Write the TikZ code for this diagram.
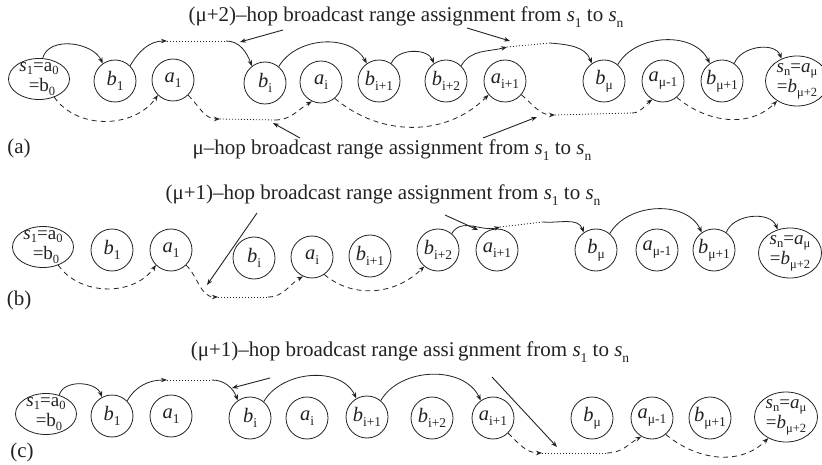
\documentclass[tikz,border=0pt]{standalone}
\usepackage{fontspec}
\setmainfont{Liberation Serif}
\usetikzlibrary{shapes.geometric,arrows.meta}
\definecolor{ink}{HTML}{222222}
\newcommand{\sbx}[1]{\raisebox{-0.25em}{\fontsize{13.5}{14}\selectfont #1}}
\newcommand{\sbe}[1]{\raisebox{-0.18em}{\fontsize{12.5}{13}\selectfont #1}}
\begin{document}
\begin{tikzpicture}[x=1pt,y=-1pt,
  nd/.style={circle,draw=ink,line width=0.8pt,minimum size=42pt,inner sep=0pt,text=ink,font=\fontsize{20.5}{22}\selectfont},
  elp/.style={ellipse,draw=ink,line width=0.8pt,minimum width=61pt,minimum height=41pt,inner sep=0pt},
  elq/.style={ellipse,draw=ink,line width=0.8pt,minimum width=63pt,minimum height=50pt,inner sep=0pt},
  etxt/.style={align=center,inner sep=0pt,text=ink,font=\fontsize{19}{20.5}\selectfont},
  lbl/.style={inner sep=0pt,text=ink,font=\fontsize{21}{24}\selectfont},
  sl/.style={draw=ink,line width=0.8pt,-{Stealth[length=6pt,width=4.5pt]}},
  ds/.style={sl,dash pattern=on 5pt off 4pt},
  dt/.style={draw=ink,line width=0.8pt,dash pattern=on 1pt off 2pt},
  ptr/.style={sl,line width=0.9pt}]
\useasboundingbox (0,0) rectangle (822,465);

% ---------------- row (a)
\node[elp] (s1a) at (39,79) {};
\node[etxt] (s1at) at (s1a) {{\itshape s}\sbe{1}=a\sbe{0}\\ \hspace*{6pt}=b\sbe{0}};
\node[nd] (b1a) at (115,81) {{\itshape b}\sbx{1}};
\node[nd] (a1a) at (173,80) {{\itshape a}\sbx{1}};
\node[nd] (bia) at (265,83) {{\itshape b}\sbx{i}};
\node[nd] (aia) at (321,82) {{\itshape a}\sbx{i}};
\node[nd] (bi1a) at (379,81) {{\itshape b}\sbx{i+1}};
\node[nd] (bi2a) at (446,81) {{\itshape b}\sbx{i+2}};
\node[nd] (ai1a) at (505,81) {{\itshape a}\sbx{i+1}};
\node[nd] (bmua) at (604,81) {{\itshape b}\sbx{μ}};
\node[nd] (amua) at (663,81) {{\itshape a}\sbx{μ-1}};
\node[nd] (bmu1a) at (722,81) {{\itshape b}\sbx{μ+1}};
\node[elq] (sna) at (797,81) {};
\node[etxt] (snat) at (sna) {{\itshape s}\sbe{n}={\itshape a}\sbe{μ}\\ ={\itshape b}\sbe{μ+2}};

\node[lbl] (la1) at (406,17) {(μ+2)–hop broadcast range assignment from {\itshape s}\sbx{1} to {\itshape s}\sbx{n}};
\node[lbl] (la2) at (392,150) {μ–hop broadcast range assignment from {\itshape s}\sbx{1} to {\itshape s}\sbx{n}};
\node[lbl] (tagA) at (19,148) {(a)};

\coordinate (pa1) at (167,41); \coordinate (qa1) at (226,41);
\coordinate (pa2) at (507,47); \coordinate (qa2) at (550,43);
\coordinate (ra1) at (220,119); \coordinate (ta1) at (275,120);
\coordinate (ra2) at (555,115); \coordinate (ta2) at (632,113);

\draw[sl] (s1a.80) to[out=75,in=115] (b1a.125);
\draw[sl] (b1a.45) to[out=60,in=180] (pa1);
\draw[dt] (pa1) -- (qa1);
\draw[sl] (qa1) to[out=0,in=110] (bia.128);
\draw[sl] (bia.50) to[out=60,in=118] (bi1a.125);
\draw[sl] (bi1a.55) to[out=70,in=110] (bi2a.125);
\draw[sl] (bi2a.45) to[out=60,in=195] (pa2);
\draw[dt] (pa2) -- (qa2);
\draw[sl] (qa2) to[out=-5,in=110] (bmua.125);
\draw[sl] (bmua.50) to[out=60,in=115] (bmu1a.125);
\draw[sl] (bmu1a.55) to[out=70,in=110] (sna.125);

\draw[ds] (s1a.-50) to[out=-55,in=-125] (a1a.-135);
\draw[ds] (a1a.-45) to[out=-45,in=180] (ra1);
\draw[dt] (ra1) -- (ta1);
\draw[ds] (ta1) to[out=0,in=-150] (aia.-115);
\draw[ds] (aia.-50) to[out=-40,in=-135] (ai1a.-140);
\draw[ds] (ai1a.-40) to[out=-40,in=180] (ra2);
\draw[dt] (ra2) -- (ta2);
\draw[ds] (ta2) to[out=0,in=-145] (amua.-120);
\draw[ds] (amua.-50) to[out=-40,in=-135] (sna.-135);

\coordinate (u1) at (283,30); \coordinate (v1) at (240,42);
\coordinate (u2) at (467,28); \coordinate (v2) at (510,41);
\coordinate (u3) at (300,138); \coordinate (v3) at (273,123);
\coordinate (u4) at (483,138); \coordinate (v4) at (537,117);
\draw[ptr] (u1) -- (v1);
\draw[ptr] (u2) -- (v2);
\draw[ptr] (u3) -- (v3);
\draw[ptr] (u4) -- (v4);

% ---------------- row (b)
\node[elp] (s1b) at (43,247) {};
\node[etxt] (s1bt) at (s1b) {{\itshape s}\sbe{1}=a\sbe{0}\\ \hspace*{6pt}=b\sbe{0}};
\node[nd] (b1b) at (112,250) {{\itshape b}\sbx{1}};
\node[nd] (a1b) at (171,250) {{\itshape a}\sbx{1}};
\node[nd] (bib) at (254,258) {{\itshape b}\sbx{i}};
\node[nd] (aib) at (312,257) {{\itshape a}\sbx{i}};
\node[nd] (bi1b) at (370,256) {{\itshape b}\sbx{i+1}};
\node[nd] (bi2b) at (438,250) {{\itshape b}\sbx{i+2}};
\node[nd] (ai1b) at (497,250) {{\itshape a}\sbx{i+1}};
\node[nd] (bmub) at (596,250) {{\itshape b}\sbx{μ}};
\node[nd] (amub) at (657,250) {{\itshape a}\sbx{μ-1}};
\node[nd] (bmu1b) at (714,250) {{\itshape b}\sbx{μ+1}};
\node[elq] (snb) at (790,253) {};
\node[etxt] (snbt) at (snb) {{\itshape s}\sbe{n}={\itshape a}\sbe{μ}\\ ={\itshape b}\sbe{μ+2}};

\node[lbl] (lb) at (383,195) {(μ+1)–hop broadcast range assignment from {\itshape s}\sbx{1} to {\itshape s}\sbx{n}};
\node[lbl] (tagB) at (19,300) {(b)};

\coordinate (rb1) at (218,297); \coordinate (tb1) at (268,297);
\coordinate (pb1) at (500,227); \coordinate (qb1) at (543,222);

\draw[ds] (s1b.-50) to[out=-55,in=-125] (a1b.-135);
\draw[ds] (a1b.-45) to[out=-45,in=180] (rb1);
\draw[dt] (rb1) -- (tb1);
\draw[ds] (tb1) to[out=0,in=-150] (aib.-115);
\draw[ds] (aib.-55) to[out=-40,in=-135] (bi2b.-130);
\draw[sl] (bi2b.50) to[out=60,in=195] (pb1);
\draw[dt] (pb1) -- (qb1);
\draw[sl] (qb1) to[out=-5,in=110] (bmub.125);
\draw[sl] (bmub.50) to[out=60,in=115] (bmu1b.125);
\draw[sl] (bmu1b.55) to[out=70,in=110] (snb.118);

\coordinate (u5) at (257,213); \coordinate (v5) at (207,285);
\coordinate (u6) at (445,215); \coordinate (v6) at (478,230);
\draw[ptr] (u5) -- (v5);
\draw[ptr] (u6) -- (v6);

% ---------------- row (c)
\node[elp] (s1c) at (46,414) {};
\node[etxt] (s1ct) at (s1c) {{\itshape s}\sbe{1}=a\sbe{0}\\ \hspace*{6pt}=b\sbe{0}};
\node[nd] (b1c) at (112,416) {{\itshape b}\sbx{1}};
\node[nd] (a1c) at (171,416) {{\itshape a}\sbx{1}};
\node[nd] (bic) at (250,418) {{\itshape b}\sbx{i}};
\node[nd] (aic) at (307,418) {{\itshape a}\sbx{i}};
\node[nd] (bi1c) at (367,417) {{\itshape b}\sbx{i+1}};
\node[nd] (bi2c) at (432,418) {{\itshape b}\sbx{i+2}};
\node[nd] (ai1c) at (493,418) {{\itshape a}\sbx{i+1}};
\node[nd] (bmuc) at (592,418) {{\itshape b}\sbx{μ}};
\node[nd] (amuc) at (652,418) {{\itshape a}\sbx{μ-1}};
\node[nd] (bmu1c) at (710,418) {{\itshape b}\sbx{μ+1}};
\node[elq] (snc) at (786,417) {};
\node[etxt] (snct) at (snc) {{\itshape s}\sbe{n}={\itshape a}\sbe{μ}\\ ={\itshape b}\sbe{μ+2}};

\node[lbl] (lc) at (410,352) {(μ+1)–hop broadcast range assi\,gnment from {\itshape s}\sbx{1} to {\itshape s}\sbx{n}};
\node[lbl] (tagC) at (22,452) {(c)};

\coordinate (pc1) at (167,380); \coordinate (qc1) at (212,380);
\coordinate (rc1) at (542,453); \coordinate (tc1) at (607,453);

\draw[sl] (s1c.55) to[out=75,in=110] (b1c.118);
\draw[sl] (b1c.45) to[out=60,in=180] (pc1);
\draw[dt] (pc1) -- (qc1);
\draw[sl] (qc1) to[out=0,in=110] (bic.125);
\draw[sl] (bic.50) to[out=60,in=115] (bi1c.120);
\draw[sl] (bi1c.50) to[out=60,in=115] (ai1c.125);
\draw[ds] (ai1c.-45) to[out=-45,in=180] (rc1);
\draw[dt] (rc1) -- (tc1);
\draw[ds] (tc1) to[out=0,in=-150] (amuc.-120);
\draw[ds] (amuc.-50) to[out=-40,in=-135] (snc.-130);

\coordinate (u7) at (270,378); \coordinate (v7) at (232,388);
\coordinate (u8) at (492,377); \coordinate (v8) at (557,447);
\draw[ptr] (u7) -- (v7);
\draw[ptr] (u8) -- (v8);
\end{tikzpicture}
\end{document}
